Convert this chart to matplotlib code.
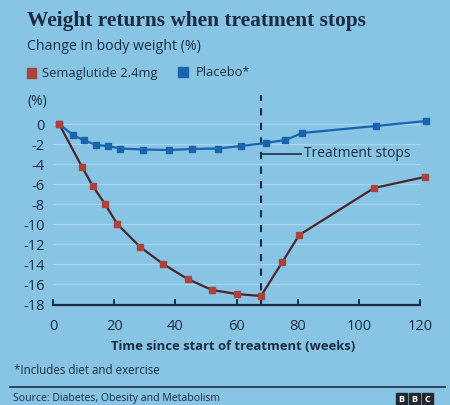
import matplotlib
matplotlib.use("Agg")
import matplotlib.pyplot as plt
from matplotlib.patches import Rectangle

# ---- data ----
sema_weeks = [2, 9.5, 13, 17, 21, 28.5, 36, 44, 52, 60, 68, 75, 80.5, 105, 121.5]
sema_vals = [0, -4.3, -6.2, -8.0, -10.0, -12.3, -14.0, -15.5, -16.6, -17.0, -17.2, -13.8, -11.1, -6.4, -5.3]
plac_weeks = [2, 6.5, 10, 14, 18, 22, 29.5, 38, 45.5, 54, 61.5, 69.5, 76, 81.5, 105.5, 122]
plac_vals = [0, -1.1, -1.6, -2.1, -2.2, -2.45, -2.55, -2.6, -2.5, -2.45, -2.2, -1.9, -1.6, -0.9, -0.2, 0.3]
x_ticks = [0, 20, 40, 60, 80, 100, 120]
y_ticks = [0, -2, -4, -6, -8, -10, -12, -14, -16, -18]
stop_week = 68
series_names = ["Semaglutide 2.4mg", "Placebo*"]

BG = "#88c4e4"
NAVY = "#1b2d42"
RED = "#a8443c"
REDLINE = "#4a2630"
BLUE = "#1a64ad"
GRID = "#a9d6ee"

plt.rcParams["font.family"] = ["Open Sans", "DejaVu Sans"]

W, H = 450, 405
fig = plt.figure(figsize=(4.5, 4.05), dpi=100, facecolor=BG)

def fx(px):
    return px / W

def fy(py):
    return 1 - py / H

ax = fig.add_axes([fx(53), fy(305), fx(430) - fx(53), fy(95) - fy(305)])
ax.set_facecolor(BG)
ax.set_xlim(0, 120 * (430 - 53) / (420 - 53))
ax.set_ylim(-18.1, 2.9)

# gridlines
ax.hlines(y_ticks[:-1], 0, 120, color=GRID, lw=0.9, zorder=1)

ax.plot(plac_weeks, plac_vals, color=BLUE, lw=1.6, marker="s", ms=4.8,
        mfc=BLUE, mec=BLUE, zorder=3)
ax.plot(sema_weeks, sema_vals, color=REDLINE, lw=1.6, marker="s", ms=4.8,
        mfc=RED, mec=RED, zorder=3)

ax.axvline(stop_week, color=NAVY, lw=1.5, ls=(0, (3.5, 3.5)), zorder=2)
ax.plot([stop_week, 81], [-2.95, -2.95], color=NAVY, lw=1.2, zorder=2)
ax.text(82, -2.95, "Treatment stops", color=NAVY, fontsize=10, va="center", ha="left")

for s in ["top", "right", "left"]:
    ax.spines[s].set_visible(False)
ax.spines["bottom"].set_color(NAVY)
ax.spines["bottom"].set_linewidth(1.6)
ax.spines["bottom"].set_bounds(0, 120)

ax.set_xticks(x_ticks)
ax.set_xticklabels([str(t) for t in x_ticks])
ax.set_yticks(y_ticks)
ax.set_yticklabels([str(t) for t in y_ticks])
ax.tick_params(axis="x", direction="in", length=4, width=1.4, color=NAVY,
               labelcolor=NAVY, labelsize=10.5, pad=10)
ax.tick_params(axis="y", length=0, labelcolor=NAVY, labelsize=10.5, pad=6)

fig.text(fx(233), fy(347), "Time since start of treatment (weeks)", color=NAVY,
         fontsize=9.4, fontweight="bold", va="center", ha="center")

# titles
fig.text(fx(27), fy(21), "Weight returns when treatment stops", color=NAVY,
         fontsize=15.4, fontweight="bold", family=["Liberation Serif"], va="center", ha="left")
fig.text(fx(27), fy(47), "Change in body weight (%)", color=NAVY, fontsize=10.2,
         va="center", ha="left")

# legend
fig.patches.append(Rectangle((fx(27), fy(78)), fx(9), 10 / H, transform=fig.transFigure,
                             color=RED, figure=fig))
fig.text(fx(42), fy(73), series_names[0], color=NAVY, fontsize=9.3, va="center", ha="left")
fig.patches.append(Rectangle((fx(178), fy(77)), fx(10), 10 / H, transform=fig.transFigure,
                             color=BLUE, figure=fig))
fig.text(fx(196), fy(72), series_names[1], color=NAVY, fontsize=9.3, va="center", ha="left")

fig.text(fx(27), fy(102), "(%)", color=NAVY, fontsize=10, va="center", ha="left")

# footnote and source
fig.text(fx(14), fy(370), "*Includes diet and exercise", color=NAVY, fontsize=8.3,
         va="center", ha="left")
fig.add_artist(plt.Line2D([fx(10), fx(445)], [fy(387), fy(387)], color=NAVY, lw=1.2,
                          transform=fig.transFigure))
fig.text(fx(13), fy(398), "Source: Diabetes, Obesity and Metabolism", color=NAVY,
         fontsize=7.6, va="center", ha="left")
for i, letter in enumerate("BBC"):
    x0 = 396 + i * 13
    fig.patches.append(Rectangle((fx(x0), fy(405)), fx(11), 12 / H,
                                 transform=fig.transFigure, color="#222831", figure=fig))
    fig.text(fx(x0 + 5.5), fy(399), letter, color="white", fontsize=6.5,
             fontweight="bold", va="center", ha="center")

fig.savefig("out.png", dpi=100, facecolor=BG)
